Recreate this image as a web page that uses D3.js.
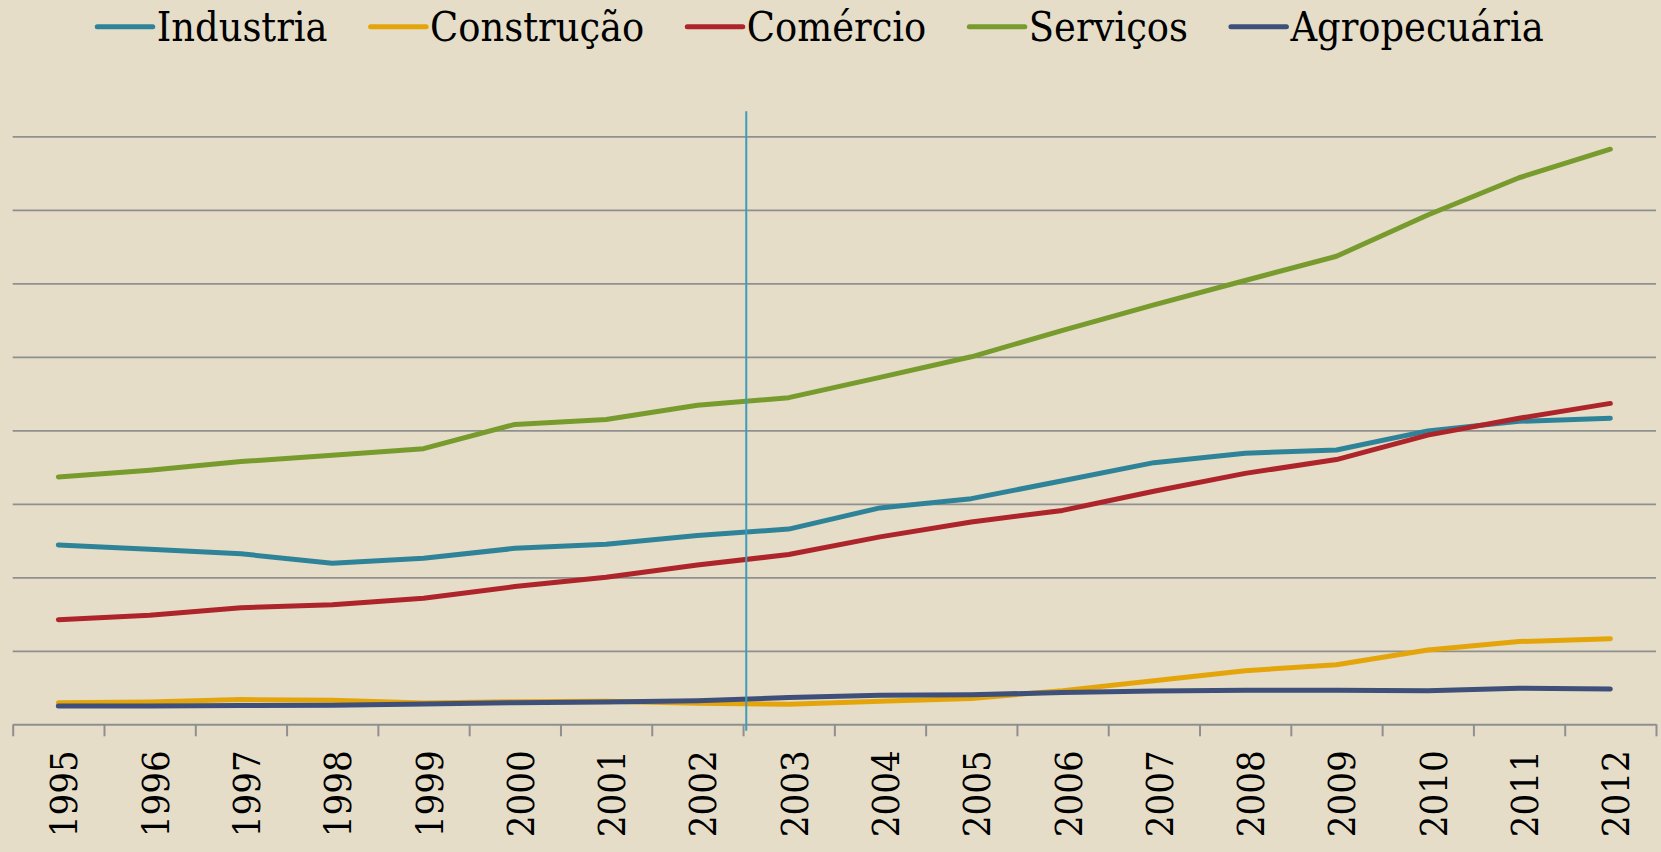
<!DOCTYPE html>
<html>
<head>
<meta charset="utf-8">
<script src="https://cdn.jsdelivr.net/npm/d3@7"></script>
<style>
    body { margin: 0; background: #e5ddc8; }
    svg { display: block; }
    text { font-family: "DejaVu Serif Condensed", "DejaVu Serif", serif; fill: #000; }
</style>
</head>
<body>
<div id="chart"></div>
<script>
// Global vars
var years = ['1995', '1996', '1997', '1998', '1999', '2000', '2001', '2002', '2003',
             '2004', '2005', '2006', '2007', '2008', '2009', '2010', '2011', '2012'];

var industria   = [122, 119, 116, 109.5, 113, 119.7, 122.5, 128.5, 132.8, 147.2, 153.5, 165.7, 178, 184.4, 186.6, 199.6, 206.1, 208.2];
var construcao  = [14.7, 15.2, 16.8, 16.3, 14.5, 15.4, 15.6, 14.3, 13.7, 15.6, 17.6, 22.9, 29.7, 36.5, 40.5, 50.6, 56.3, 58.2];
var comercio    = [71.2, 74.2, 79.3, 81.4, 85.7, 93.7, 100, 108.3, 115.5, 127.5, 137.6, 145.5, 158.5, 170.7, 180.1, 196.7, 208.2, 218.3];
var servicos    = [168.3, 172.9, 178.7, 183, 187.5, 204, 207.3, 217, 222.2, 236, 250, 268, 285.3, 301.9, 318.4, 346.5, 371.8, 391.2];
var agro        = [12.4, 12.4, 12.8, 12.9, 13.8, 14.7, 15.2, 16.1, 18.2, 19.8, 20.1, 21.6, 22.6, 23.1, 23.1, 22.9, 24.6, 24.0];

var seriesNames = ['Industria', 'Construção', 'Comércio', 'Serviços', 'Agropecuária'];
var seriesValues = [industria, construcao, comercio, servicos, agro];
var seriesColors = ['#2f8398', '#e4a50b', '#ad252a', '#789b2e', '#3e5079'];

var gridValues = [50, 100, 150, 200, 250, 300, 350, 400];

// marker line sits just after the 2002/2003 boundary
var markerIndex = 8.035;
var markerSpan = [-4.4, 417];

/*
 * Render the graphic.
 */
var render = function() {
    var width = 1661;
    var height = 852;

    var margins = {
        top: 136.3,
        right: 5,
        bottom: 127.7,
        left: 12.7
    };

    var chartWidth = width - margins['left'] - margins['right'];
    var chartHeight = height - margins['top'] - margins['bottom'];

    var containerElement = d3.select('#chart');
    containerElement.html('');

    var svg = containerElement.append('svg')
        .attr('width', width)
        .attr('height', height);

    var chart = svg.append('g')
        .attr('transform', 'translate(' + margins['left'] + ',' + margins['top'] + ')');

    // scales
    var xScale = d3.scaleBand()
        .domain(years)
        .range([0, chartWidth]);

    var xEdge = d3.scaleLinear()
        .domain([0, years.length])
        .range([0, chartWidth]);

    var yScale = d3.scaleLinear()
        .domain([0, 400])
        .range([chartHeight, 0]);

    // grid
    var grid = chart.append('g')
        .attr('class', 'grid')
        .call(d3.axisLeft(yScale)
            .tickValues(gridValues)
            .tickSize(-chartWidth)
            .tickFormat(''));
    grid.select('.domain').remove();
    grid.selectAll('line')
        .attr('stroke', '#8f8f8f')
        .attr('stroke-width', 1.8);

    // x axis with ticks between categories
    var xAxis = chart.append('g')
        .attr('transform', 'translate(0,' + chartHeight + ')')
        .call(d3.axisBottom(xEdge)
            .tickValues(d3.range(0, years.length + 1))
            .tickSize(12)
            .tickSizeOuter(0)
            .tickFormat(''));
    xAxis.select('.domain')
        .attr('stroke', '#8f8f8f')
        .attr('stroke-width', 2);
    xAxis.selectAll('line')
        .attr('stroke', '#8f8f8f')
        .attr('stroke-width', 2);

    // year labels
    chart.append('g')
        .selectAll('text')
        .data(years)
        .enter().append('text')
        .attr('transform', function(d) {
            return 'translate(' + (xScale(d) + xScale.bandwidth() / 2) + ',' + (chartHeight + 26) + ') rotate(-90)';
        })
        .attr('text-anchor', 'end')
        .attr('dy', '0.5em')
        .style('font-size', '38px')
        .text(function(d) { return d; });

    // lines
    var line = d3.line()
        .x(function(d, i) { return xScale(years[i]) + xScale.bandwidth() / 2; })
        .y(function(d) { return yScale(d); });

    chart.append('g')
        .selectAll('path')
        .data(seriesValues)
        .enter().append('path')
        .attr('d', line)
        .attr('fill', 'none')
        .attr('stroke', function(d, i) { return seriesColors[i]; })
        .attr('stroke-width', 5)
        .attr('stroke-linecap', 'round')
        .attr('stroke-linejoin', 'round');

    // marker line
    chart.append('line')
        .attr('x1', xEdge(markerIndex))
        .attr('x2', xEdge(markerIndex))
        .attr('y1', yScale(markerSpan[1]))
        .attr('y2', yScale(markerSpan[0]))
        .attr('stroke', '#3d9cba')
        .attr('stroke-width', 2);

    // legend
    var legend = svg.append('g');
    var lineLen = 55.5;
    var textGap = 4;
    var itemGap = 43;
    var xpos = 0;

    seriesNames.forEach(function(name, i) {
        var item = legend.append('g');
        item.append('line')
            .attr('x1', 0)
            .attr('x2', lineLen)
            .attr('y1', 26.7)
            .attr('y2', 26.7)
            .attr('stroke', seriesColors[i])
            .attr('stroke-width', 5)
            .attr('stroke-linecap', 'round');
        var label = item.append('text')
            .attr('x', lineLen + textGap)
            .attr('y', 41)
            .style('font-size', '41px')
            .text(name);
        var w = label.node().getComputedTextLength();
        item.attr('transform', 'translate(' + xpos + ',0)');
        xpos += lineLen + textGap + w + itemGap;
    });

    var legendWidth = xpos - itemGap;
    legend.attr('transform', 'translate(' + (820.5 - legendWidth / 2) + ',0)');
}

window.onload = render;
</script>
</body>
</html>
